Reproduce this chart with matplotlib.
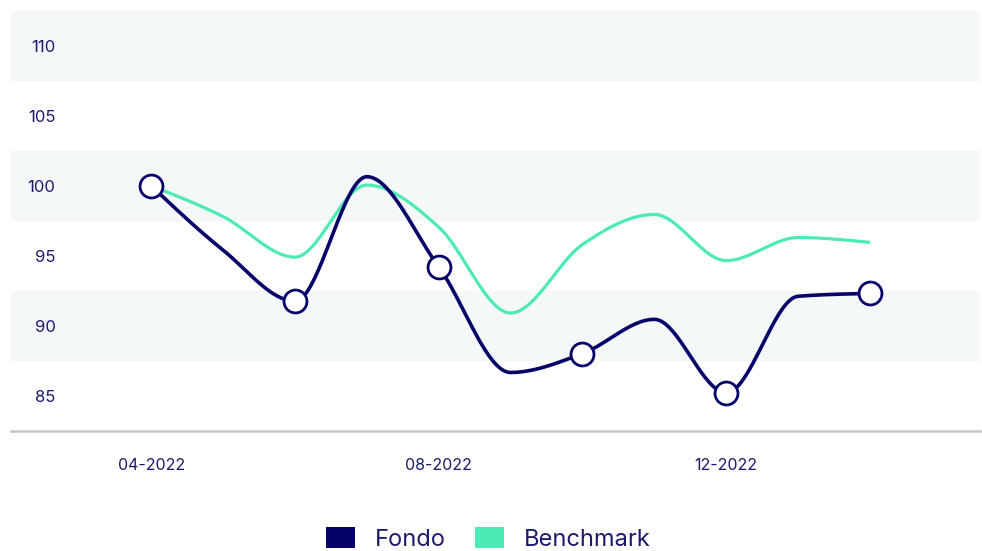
import numpy as np
import matplotlib
matplotlib.use("Agg")
import matplotlib.pyplot as plt
from matplotlib.patches import Patch

plt.rcParams['font.family'] = ['Inter', 'DejaVu Sans']

months = ["04-2022", "05-2022", "06-2022", "07-2022", "08-2022", "09-2022",
          "10-2022", "11-2022", "12-2022", "01-2023", "02-2023"]
fondo = [100.0, 95.4, 91.75, 100.65, 94.2, 86.65, 88.0, 90.45, 85.2, 92.1, 92.3]
benchmark = [100.0, 97.8, 94.9, 100.05, 97.05, 90.9, 95.8, 97.95, 94.65, 96.3, 95.95]
marker_months = ["04-2022", "06-2022", "08-2022", "10-2022", "12-2022", "02-2023"]
xtick_labels = ["04-2022", "08-2022", "12-2022"]
yticks = [85, 90, 95, 100, 105, 110]

NAVY = '#05036a'
MINT = '#4de9b7'
TXT = '#1c1a6e'
BAND = '#f4f8f9'


def monotone(x, y, n=40):
    x = np.asarray(x, float); y = np.asarray(y, float)
    h = np.diff(x); s = np.diff(y) / h
    m = np.zeros_like(y)
    for i in range(1, len(y) - 1):
        h0, h1, s0, s1 = h[i - 1], h[i], s[i - 1], s[i]
        p = (s0 * h1 + s1 * h0) / (h0 + h1)
        m[i] = (np.sign(s0) + np.sign(s1)) * min(abs(s0), abs(s1), 0.5 * abs(p))
    m[0] = (3 * s[0] - m[1]) / 2
    m[-1] = (3 * s[-1] - m[-2]) / 2
    xs, ys = [], []
    for i in range(len(y) - 1):
        t = np.linspace(0, 1, n, endpoint=(i == len(y) - 2))
        hh = h[i]
        h00 = 2 * t**3 - 3 * t**2 + 1
        h10 = t**3 - 2 * t**2 + t
        h01 = -2 * t**3 + 3 * t**2
        h11 = t**3 - t**2
        xs.append(x[i] + t * hh)
        ys.append(h00 * y[i] + h10 * hh * m[i] + h01 * y[i + 1] + h11 * hh * m[i + 1])
    return np.concatenate(xs), np.concatenate(ys)


fig = plt.figure(figsize=(9.82, 5.51), dpi=100)
ax = fig.add_axes([11 / 982, 1 - 430.5 / 551, (980 - 11) / 982, (430.5 - 11) / 551])

xi = np.arange(len(months))
ax.set_xlim(-1.95, 11.53)
ax.set_ylim(82.5, 112.5)

for lo in [87.5, 97.5, 107.5]:
    ax.axhspan(lo, lo + 5, color=BAND, lw=0, zorder=0)

bx, by = monotone(xi, benchmark)
ax.plot(bx, by, color=MINT, lw=2.3, zorder=2, solid_capstyle='butt')
fx, fy = monotone(xi, fondo)
ax.plot(fx, fy, color=NAVY, lw=2.6, zorder=3, solid_capstyle='butt')

mi = [months.index(m) for m in marker_months]
ax.plot(mi, [fondo[i] for i in mi], 'o', ms=16.5, mfc='white', mec=NAVY, mew=2.0, zorder=4,
        clip_on=False)

for sp in ['top', 'left', 'right']:
    ax.spines[sp].set_visible(False)
ax.spines['bottom'].set_color('#c4c4c4')
ax.spines['bottom'].set_linewidth(1.8)

ax.set_yticks(yticks)
ax.set_yticklabels([str(v) for v in yticks])
ax.tick_params(axis='y', length=0, pad=-32, labelsize=12, labelcolor=TXT)
ax.set_xticks([months.index(m) for m in xtick_labels])
ax.set_xticklabels(xtick_labels)
ax.tick_params(axis='x', length=0, pad=20, labelsize=11.5, labelcolor=TXT)
for lab in ax.get_yticklabels():
    lab.set_zorder(5)

handles = [Patch(facecolor=NAVY, edgecolor='none', label='Fondo'),
           Patch(facecolor=MINT, edgecolor='none', label='Benchmark')]
fig.legend(handles=handles, loc='center', bbox_to_anchor=(488.5 / 982, 1 - 539 / 551),
           ncol=2, frameon=False, fontsize=17, handlelength=1.2, handleheight=1.0,
           handletextpad=0.85, columnspacing=1.25, labelcolor=TXT, borderpad=0)

fig.savefig('out.png', dpi=100, facecolor='white')
